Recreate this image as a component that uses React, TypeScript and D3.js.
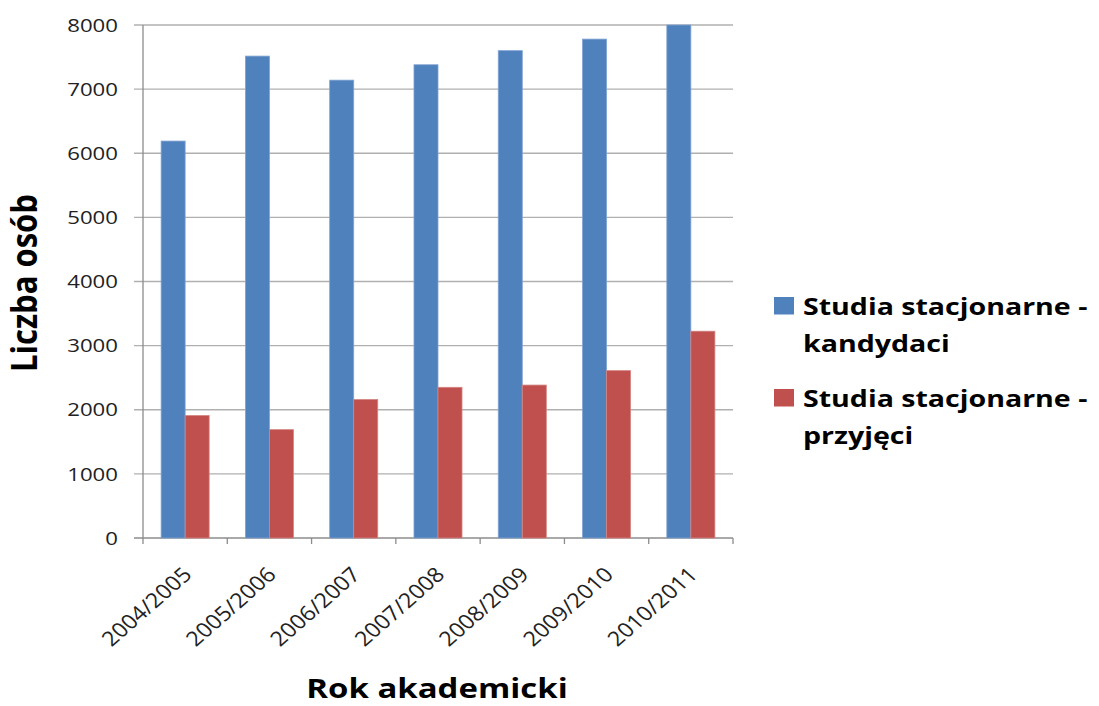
import React from "react";
import * as d3 from "d3";

const categories = ["2004/2005", "2005/2006", "2006/2007", "2007/2008", "2008/2009", "2009/2010", "2010/2011"];
const kandydaci = [6190, 7515, 7140, 7380, 7600, 7780, 8000];
const przyjeci = [1910, 1690, 2160, 2350, 2385, 2610, 3225];
const legendLines = [["Studia stacjonarne -", "kandydaci"], ["Studia stacjonarne -", "przyjęci"]];
const yTicks = [0, 1000, 2000, 3000, 4000, 5000, 6000, 7000, 8000];

const W = 1099, H = 706;
const left = 143, right = 733, top = 25, bottom = 538;
const colors = ["#4F81BD", "#C0504D"];
const strokes = ["#7FA3D3", "#D48583"];
const font = "'Open Sans', 'DejaVu Sans', sans-serif";

export default function App() {
  const x = d3.scaleBand<string>().domain(categories).range([left, right]).paddingInner(0).paddingOuter(0);
  const y = d3.scaleLinear().domain([0, 8000]).range([bottom, top]);
  const bw = x.bandwidth();
  const barW = bw * 0.285;
  const series = [kandydaci, przyjeci];

  return (
    <svg width={W} height={H} style={{ position: "absolute", left: 0, top: 0, background: "#fff" }}>
      {yTicks.map((t) => (
        <g key={t}>
          <line x1={134} x2={right} y1={y(t)} y2={y(t)} stroke={t === 0 ? "#8c8c8c" : "#b0b0b0"} strokeWidth={1.3} />
          <text transform={`translate(118,${y(t)}) scale(1.2,1)`} dy="0.36em" textAnchor="end"
            fontFamily={font} fontSize={18.5} fill="#222">{t}</text>
        </g>
      ))}
      <line x1={left} x2={left} y1={top} y2={bottom} stroke="#8c8c8c" strokeWidth={1.3} />
      {categories.map((c, i) => (
        <line key={"tk" + i} x1={x(c)!} x2={x(c)!} y1={bottom} y2={bottom + 6} stroke="#8c8c8c" strokeWidth={1.3} />
      ))}
      <line x1={right} x2={right} y1={bottom} y2={bottom + 6} stroke="#8c8c8c" strokeWidth={1.3} />
      {series.map((vals, s) =>
        vals.map((v, i) => {
          const cx = x(categories[i])! + bw / 2;
          const bx = cx - barW + s * barW;
          return (
            <rect key={s + "-" + i} x={bx} y={y(v)} width={barW} height={bottom - y(v)}
              fill={colors[s]} stroke={strokes[s]} strokeWidth={0.8} />
          );
        })
      )}
      {categories.map((c, i) => {
        const cx = x(c)! + bw / 2;
        return (
          <text key={"lb" + i} transform={`translate(${cx + 8},576) scale(1.14,1) rotate(-45)`} textAnchor="end"
            fontFamily={font} fontSize={20.5} fill="#222">{c}</text>
        );
      })}
      <text transform={`translate(37,283) scale(1.15,1) rotate(-90)`} textAnchor="middle" fontFamily={font}
        fontWeight="bold" fontSize={31} fill="#000">Liczba osób</text>
      <text transform={`translate(437,698) scale(1.22,1)`} textAnchor="middle" fontFamily={font}
        fontWeight="bold" fontSize={27} fill="#000">Rok akademicki</text>
      {legendLines.map((lines, s) => {
        const y0 = s === 0 ? 315 : 407;
        return (
          <g key={"lg" + s}>
            <rect x={774} y={y0 - 18} width={20} height={17.5} fill={colors[s]} />
            <text transform={`translate(803,${y0}) scale(1.19,1)`} fontFamily={font} fontWeight="bold" fontSize={24} fill="#000">{lines[0]}</text>
            <text transform={`translate(803,${y0 + 37}) scale(1.19,1)`} fontFamily={font} fontWeight="bold" fontSize={24} fill="#000">{lines[1]}</text>
          </g>
        );
      })}
    </svg>
  );
}
